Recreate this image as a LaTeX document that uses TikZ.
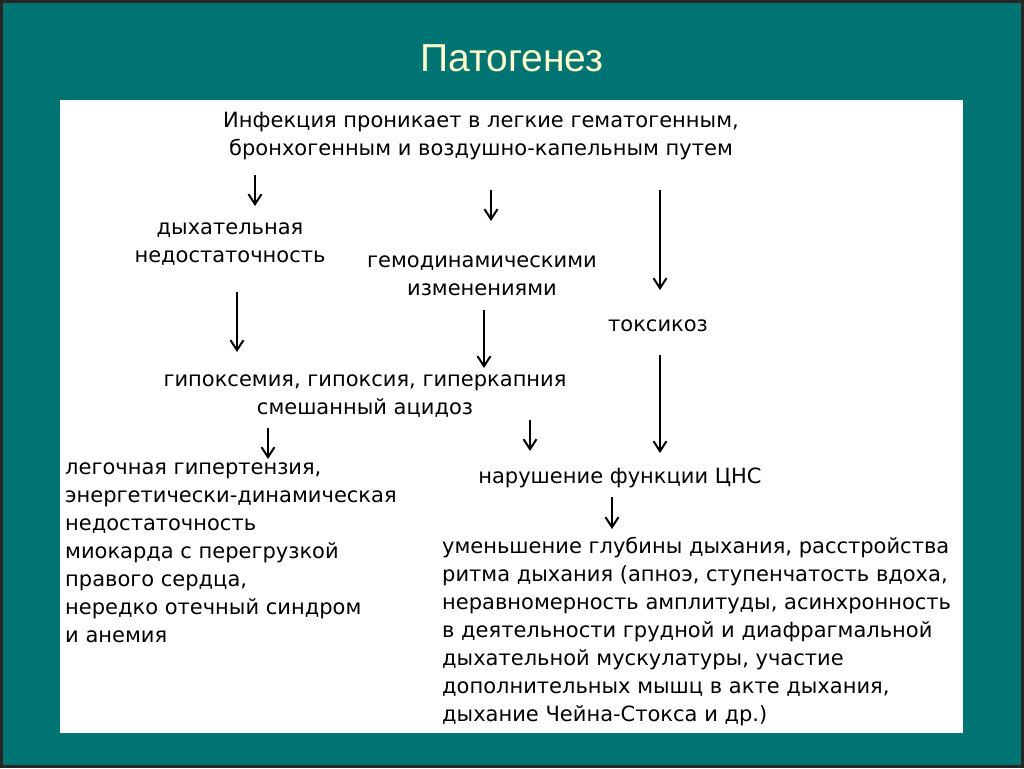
\documentclass[tikz,border=0pt]{standalone}
\usepackage{fontspec}
\setmainfont{Liberation Sans}
\newfontfamily\djvfont{DejaVu Sans}
\usetikzlibrary{arrows.meta}
\begin{document}
\begin{tikzpicture}[x=1pt,y=-1pt,
  txt/.style={font=\djvfont\fontsize{21}{28}\selectfont, align=center, inner sep=0},
  ltxt/.style={font=\djvfont\fontsize{21}{28}\selectfont, align=left, inner sep=0, anchor=north west},
  arr/.style={line width=2pt, -{Straight Barb[length=10pt,width=13pt,line width=2pt]}}]
\fill[black!85] (0,0) rectangle (1024,768);
\fill[teal!90!black] (3,3) rectangle (1021,765);
\useasboundingbox (0,0) rectangle (1024,768);
\fill[white] (60,100) rectangle (963,733);
\node[font=\fontsize{39}{44}\selectfont, text=yellow!20] (title) at (512,58) {Патогенез};
\node[txt] (inf) at (481,136) {Инфекция проникает в легкие гематогенным,\\бронхогенным и воздушно-капельным путем};
\node[txt] (dn) at (230,244) {дыхательная\\недостаточность};
\node[txt] (gem) at (482,276) {гемодинамическими\\изменениями};
\node[txt] (tox) at (658,326) {токсикоз};
\node[txt] (gip) at (365,396) {гипоксемия, гипоксия, гиперкапния\\смешанный ацидоз};
\node[txt] (cns) at (620,478) {нарушение функции ЦНС};
\node[ltxt] (leg) at (65,463) {легочная гипертензия,\\энергетически-динамическая\\недостаточность\\миокарда с перегрузкой\\правого сердца,\\нередко отечный синдром\\и анемия};
\node[ltxt] (um) at (442,537) {уменьшение глубины дыхания, расстройства\\ритма дыхания (апноэ, ступенчатость вдоха,\\неравномерность амплитуды, асинхронность\\в деятельности грудной и диафрагмальной\\дыхательной мускулатуры, участие\\дополнительных мышц в акте дыхания,\\дыхание Чейна-Стокса и др.)};
\coordinate (a1s) at (255,175); \coordinate (a1e) at (255,206);
\coordinate (a2s) at (491,190); \coordinate (a2e) at (491,221);
\coordinate (a3s) at (660,190); \coordinate (a3e) at (660,290);
\coordinate (a4s) at (237,292); \coordinate (a4e) at (237,352);
\coordinate (a5s) at (484,310); \coordinate (a5e) at (484,368);
\coordinate (a6s) at (660,355); \coordinate (a6e) at (660,453);
\coordinate (a7s) at (268,428); \coordinate (a7e) at (268,459);
\coordinate (a8s) at (530,420); \coordinate (a8e) at (530,451);
\coordinate (a9s) at (612,497); \coordinate (a9e) at (612,529);
\foreach \i in {1,...,9} \draw[arr] (a\i s) -- (a\i e);
\end{tikzpicture}
\end{document}
